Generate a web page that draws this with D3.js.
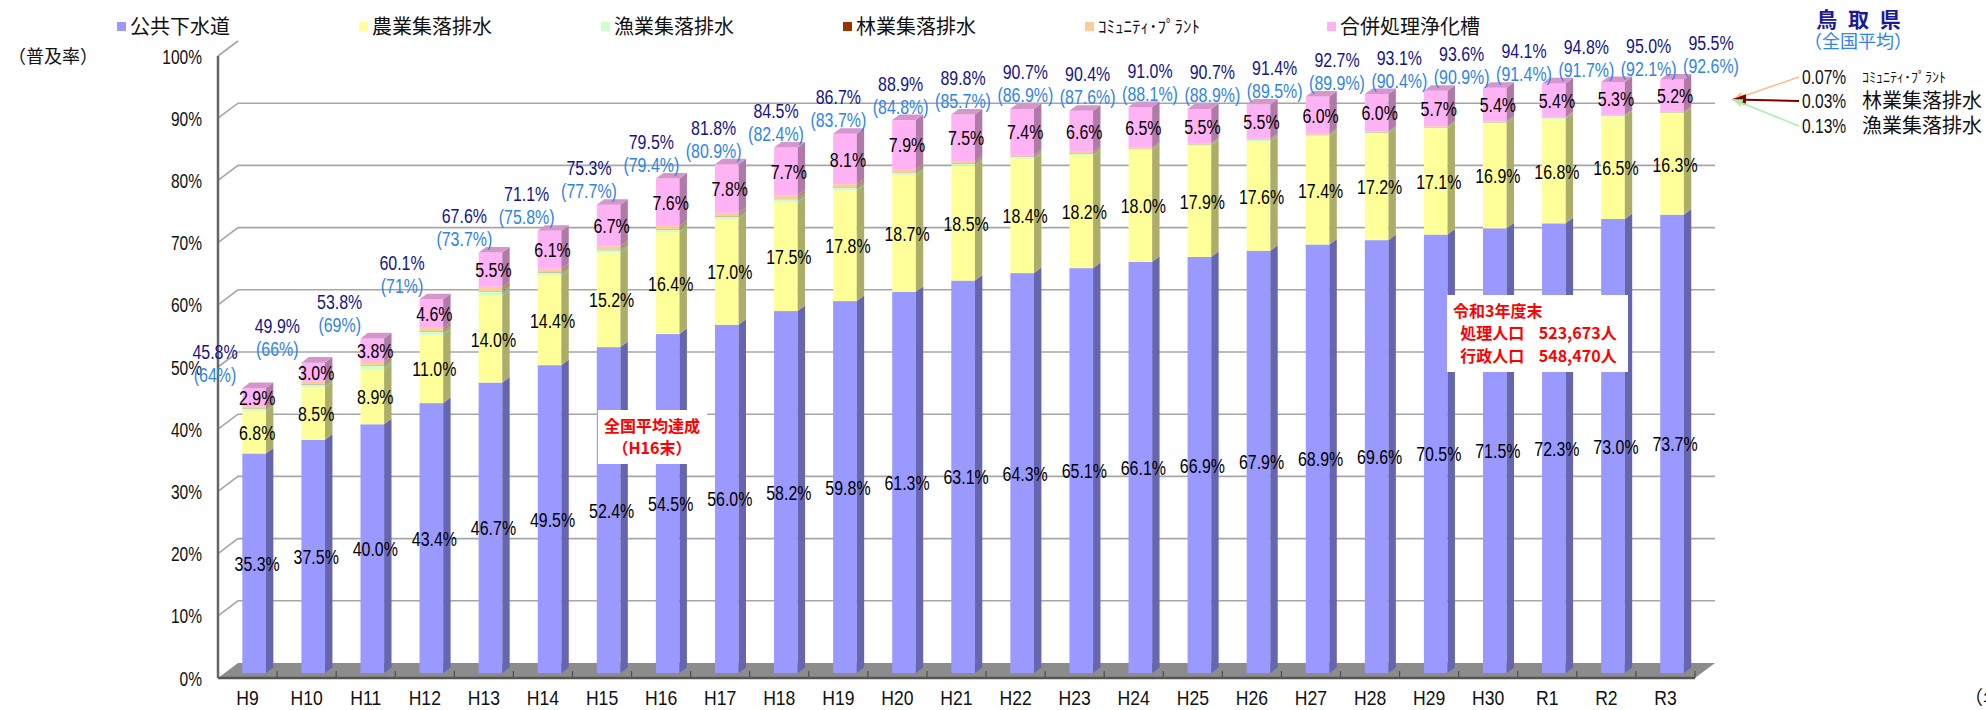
<!DOCTYPE html>
<meta charset="utf-8">
<style>
body { margin: 0; background: #fff; }
svg { display: block; }
.num { font-family: "Liberation Sans", Arial, sans-serif; }
.jp { font-family: "Noto Sans CJK JP", sans-serif; }
</style>
<svg width="1986" height="710"></svg>
<script src="https://d3js.org/d3.v7.min.js"></script>
<script>

// ---- data ----
var years = ["H9","H10","H11","H12","H13","H14","H15","H16","H17","H18","H19","H20","H21",
             "H22","H23","H24","H25","H26","H27","H28","H29","H30","R1","R2","R3"];

var sewer     = [35.3,37.5,40.0,43.4,46.7,49.5,52.4,54.5,56.0,58.2,59.8,61.3,63.1,64.3,65.1,66.1,66.9,67.9,68.9,69.6,70.5,71.5,72.3,73.0,73.7];
var agri      = [6.8,8.5,8.9,11.0,14.0,14.4,15.2,16.4,17.0,17.5,17.8,18.7,18.5,18.4,18.2,18.0,17.9,17.6,17.4,17.2,17.1,16.9,16.8,16.5,16.3];
var fishery   = [0.4,0.4,0.5,0.5,0.6,0.5,0.4,0.4,0.4,0.5,0.4,0.4,0.3,0.3,0.2,0.2,0.2,0.2,0.2,0.15,0.15,0.15,0.15,0.13,0.13];
var forestry  = [0.05,0.05,0.05,0.05,0.05,0.05,0.05,0.05,0.05,0.05,0.05,0.05,0.05,0.05,0.05,0.03,0.03,0.03,0.03,0.03,0.03,0.03,0.03,0.03,0.03];
var community = [0.35,0.45,0.55,0.55,0.75,0.55,0.55,0.55,0.55,0.55,0.55,0.55,0.35,0.25,0.25,0.17,0.17,0.17,0.17,0.12,0.12,0.12,0.12,0.07,0.07];
var johkasou  = [2.9,3.0,3.8,4.6,5.5,6.1,6.7,7.6,7.8,7.7,8.1,7.9,7.5,7.4,6.6,6.5,5.5,5.5,6.0,6.0,5.7,5.4,5.4,5.3,5.2];

var totalRate    = [45.8,49.9,53.8,60.1,67.6,71.1,75.3,79.5,81.8,84.5,86.7,88.9,89.8,90.7,90.4,91.0,90.7,91.4,92.7,93.1,93.6,94.1,94.8,95.0,95.5];
var nationalRate = ["64","66","69","71","73.7","75.8","77.7","79.4","80.9","82.4","83.7","84.8","85.7","86.9","87.6","88.1","88.9","89.5","89.9","90.4","90.9","91.4","91.7","92.1","92.6"];

var seriesKeys  = ["sewer","agri","fishery","forestry","community","johkasou"];
var seriesNames = ["公共下水道","農業集落排水","漁業集落排水","林業集落排水","ｺﾐｭﾆﾃｨ･ﾌﾟﾗﾝﾄ","合併処理浄化槽"];
var yTicks = [0,10,20,30,40,50,60,70,80,90,100];

// ---- styles ----
var front = {sewer:"#9999ff", agri:"#ffff99", fishery:"#ccffcc", forestry:"#993300", community:"#ffcc99", johkasou:"#ffb3f5"};
var side  = {sewer:"#6666b0", agri:"#adad6a", fishery:"#8cb08c", forestry:"#662200", community:"#b08c6a", johkasou:"#b07aa8"};
var topFace = "#d596cc";
var labelled = {sewer:true, agri:true, johkasou:true};

var svg = d3.select("svg");

// narrow numeric text (the original uses a tall, condensed gothic face)
function narrowText(parent, px, py, s, str, sx) {
  return parent.append("text")
      .attr("class", "num")
      .attr("transform", "translate(" + px + "," + py + ") scale(" + (sx || 0.76) + ",1)")
      .attr("dy", "0.36em")
      .attr("font-size", s)
      .text(str);
}

var table = years.map(function(y, i) {
  return {year: y, sewer: sewer[i], agri: agri[i], fishery: fishery[i],
          forestry: forestry[i], community: community[i], johkasou: johkasou[i]};
});
var stacked = d3.stack().keys(seriesKeys)(table);

// plot geometry: front plane + depth offset
var DX = 20, DY = -15, f0 = 0.33, f1 = 0.7;

var x = d3.scaleBand().domain(years).range([218, 1695]).paddingInner(0.6).paddingOuter(0.3);
var y = d3.scaleLinear().domain([0, 100]).range([678, 56]);
// labels above bars sit on their own, slightly wider, row
var xLab = d3.scalePoint().domain(years).range([215, 1711]);

var x0 = x.range()[0], x1 = x.range()[1];

// back wall gridlines
var grid = svg.append("g").attr("stroke", "#a6a6a6").attr("stroke-width", 1.6).attr("fill", "none");
yTicks.filter(function(t) { return t > 0; }).forEach(function(t) {
  var pts = [[x0, y(t)], [x0 + DX, y(t) + DY]];
  if (t < 100) pts.push([x1 + DX, y(t) + DY]);
  grid.append("path").attr("d", d3.line()(pts));
});

// floor
svg.append("path")
    .attr("d", d3.line()([[x0, y(0)], [x0 + DX, y(0) + DY], [x1 + DX, y(0) + DY], [x1, y(0)]]) + "Z")
    .attr("fill", "#8c8c8c");

// band boundary ticks on the floor edge
svg.append("g").selectAll("line")
  .data(years)
  .join("line")
    .attr("x1", function(d) { return x(d) + x.bandwidth() + x.step() * x.paddingInner() / 2; })
    .attr("x2", function(d) { return x(d) + x.bandwidth() + x.step() * x.paddingInner() / 2; })
    .attr("y1", y(0)).attr("y2", y(0) - 7)
    .attr("stroke", "#4d4d4d").attr("stroke-width", 1.2);

// axes
svg.append("line").attr("x1", x0).attr("x2", x1).attr("y1", y(0)).attr("y2", y(0))
    .attr("stroke", "#555").attr("stroke-width", 2.5);
svg.append("line").attr("x1", x0).attr("x2", x0).attr("y1", y(0)).attr("y2", y(100))
    .attr("stroke", "#666").attr("stroke-width", 2.5);

var yLab = svg.append("g").attr("fill", "#111").attr("text-anchor", "end");
yTicks.forEach(function(t) { narrowText(yLab, 202, y(t), 21, t + "%", 0.74); });

var xLabG = svg.append("g").attr("fill", "#111").attr("text-anchor", "middle");
years.forEach(function(yr) { narrowText(xLabG, x(yr) + x.bandwidth() / 2, y(0) + 20, 20, yr, 0.88); });

// bars
var ox0 = DX * f0, oy0 = DY * f0, ddx = DX * (f1 - f0), ddy = DY * (f1 - f0);
var bw = x.bandwidth();
var bars = svg.append("g");

stacked.forEach(function(layer, li) {
  var key = layer.key;
  layer.forEach(function(s, i) {
    var yr = years[i];
    var left = x(yr) + ox0, right = left + bw;
    var yt = y(s[1]) + oy0, yb = y(s[0]) + oy0;
    bars.append("rect")
        .attr("x", left).attr("y", yt).attr("width", bw).attr("height", Math.max(0, yb - yt))
        .attr("fill", front[key]);
    bars.append("path")
        .attr("d", d3.line()([[right, yt], [right + ddx, yt + ddy], [right + ddx, yb + ddy], [right, yb]]) + "Z")
        .attr("fill", side[key]);
    if (li === stacked.length - 1) {
      bars.append("path")
          .attr("d", d3.line()([[left, yt], [left + ddx, yt + ddy], [right + ddx, yt + ddy], [right, yt]]) + "Z")
          .attr("fill", topFace);
    }
  });
});

// segment value labels
var vals = svg.append("g").attr("fill", "#000").attr("text-anchor", "middle");
stacked.forEach(function(layer) {
  if (!labelled[layer.key]) return;
  layer.forEach(function(s, i) {
    narrowText(vals, x(years[i]) + ox0 + bw / 2 + 3, y((s[0] + s[1]) / 2) + oy0, 21,
               (s[1] - s[0]).toFixed(1) + "%");
  });
});

// total (Tottori) and national average above each bar
var tops = svg.append("g").attr("text-anchor", "middle");
years.forEach(function(yr, i) {
  var barTop = y(totalRate[i]) + oy0;
  narrowText(tops, xLab(yr), barTop - 37, 21, totalRate[i].toFixed(1) + "%").attr("fill", "#14148c");
  narrowText(tops, xLab(yr), barTop - 14, 21, "(" + nationalRate[i] + "%)").attr("fill", "#2f84ea");
});

// legend
var legend = svg.append("g").attr("class", "jp");
seriesKeys.forEach(function(k, i) {
  var lx = 121 + i * 242;
  legend.append("rect").attr("x", lx - 4).attr("y", 22).attr("width", 9).attr("height", 9).attr("fill", front[k]);
  legend.append("text").attr("x", lx + 9).attr("y", 27).attr("dy", "0.36em")
      .attr("font-size", k === "community" ? 17 : 20).attr("fill", "#111")
      .text(seriesNames[i]);
});

svg.append("text").attr("class", "jp").attr("x", 8).attr("y", 57).attr("dy", "0.36em")
    .attr("font-size", 18).attr("fill", "#111").text("（普及率）");
svg.append("text").attr("class", "jp").attr("x", 1964).attr("y", 698).attr("dy", "0.36em")
    .attr("font-size", 19).attr("fill", "#111").text("（年");

// prefecture / national caption
svg.append("text").attr("class", "jp").attr("x", 1860).attr("y", 19).attr("dy", "0.36em")
    .attr("text-anchor", "middle").attr("font-size", 21).attr("font-weight", "bold")
    .attr("letter-spacing", 3)
    .attr("fill", "#1a1a99").attr("xml:space", "preserve").text("鳥 取 県");
svg.append("text").attr("class", "jp").attr("x", 1858).attr("y", 42).attr("dy", "0.36em")
    .attr("text-anchor", "middle").attr("font-size", 18)
    .attr("fill", "#2f84ea").text("（全国平均）");

// small R3 categories with arrows
var last = years.length - 1;
var tip = [x(years[last]) + ox0 + bw + ddx + 42, y(totalRate[last] - 3.3) + oy0];
var small = [
  {key: "community", value: community[last], color: "#ffbb88", ty: 77},
  {key: "forestry",  value: forestry[last],  color: "#7a0000", ty: 101},
  {key: "fishery",   value: fishery[last],   color: "#aaf0aa", ty: 126}
];
svg.append("defs").selectAll("marker").data(small).join("marker")
    .attr("id", function(d) { return "arr-" + d.key; })
    .attr("viewBox", "0 0 10 10").attr("refX", 9).attr("refY", 5)
    .attr("markerWidth", 7).attr("markerHeight", 7).attr("orient", "auto")
  .append("path").attr("d", "M0,1L10,5L0,9Z").attr("fill", function(d) { return d.color; });
var smallG = svg.append("g").attr("fill", "#111");
small.forEach(function(d) {
  svg.append("line")
      .attr("x1", 1799).attr("y1", d.ty).attr("x2", tip[0]).attr("y2", tip[1])
      .attr("stroke", d.color).attr("stroke-width", d.key === "forestry" ? 2 : 1.5)
      .attr("marker-end", "url(#arr-" + d.key + ")");
  narrowText(smallG, 1802, d.ty, 20, d.value.toFixed(2) + "%", 0.78);
  smallG.append("text").attr("class", "jp").attr("x", 1862).attr("y", d.ty).attr("dy", "0.36em")
      .attr("font-size", d.key === "community" ? 14 : 20)
      .text(seriesNames[seriesKeys.indexOf(d.key)]);
});

// boxed notes
function note(cx, cy, w, lines, anchor, tx) {
  var g = svg.append("g").attr("class", "jp");
  g.append("rect").attr("x", cx).attr("y", cy).attr("width", w).attr("height", lines.length * 23 + 8).attr("fill", "#fff");
  lines.forEach(function(l, i) {
    g.append("text").attr("x", tx).attr("y", cy + 16 + i * 22.5).attr("dy", "0.36em")
        .attr("text-anchor", anchor).attr("font-size", 16).attr("font-weight", "bold")
        .attr("fill", "#ff0000").attr("xml:space", "preserve").text(l);
  });
}
note(598, 410, 109, ["全国平均達成", "（H16末）"], "middle", 652);
note(1447, 295, 181, ["令和3年度末", "  処理人口    523,673人", "  行政人口    548,470人"], "start", 1453);

</script>
